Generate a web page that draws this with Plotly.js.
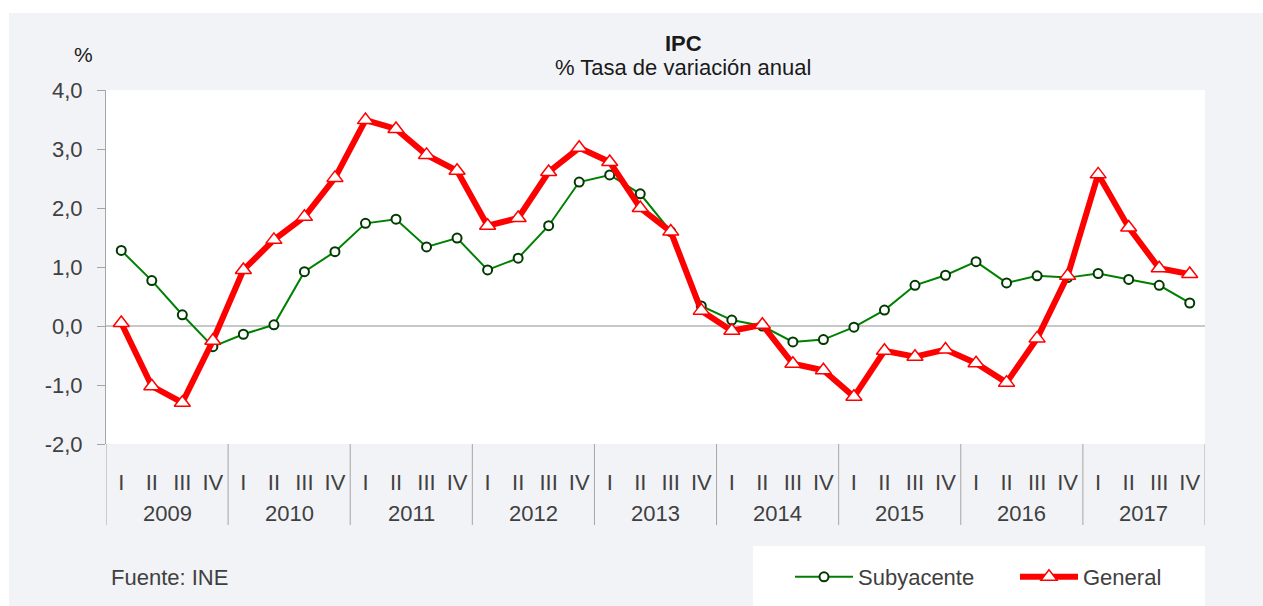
<!DOCTYPE html>
<html>
<head>
<meta charset="utf-8">
<script src="https://cdn.plot.ly/plotly-3.0.1.min.js"></script>
<style>
  html, body { margin: 0; padding: 0; background: #ffffff; width: 1263px; height: 606px; overflow: hidden; }
  #chart { position: absolute; left: 9px; top: 13px; width: 1254px; height: 593px; }
</style>
</head>
<body>
<div id="chart"></div>
<script>
// ---- Data ----
const years = ["2009", "2010", "2011", "2012", "2013", "2014", "2015", "2016", "2017"];
const quarters = ["I", "II", "III", "IV"];
const subyacente = [
  1.28, 0.77, 0.19, -0.35,
  -0.14, 0.02, 0.92, 1.26,
  1.74, 1.81, 1.34, 1.49,
  0.95, 1.15, 1.70, 2.44,
  2.56, 2.24, 1.60, 0.34,
  0.10, 0.00, -0.27, -0.23,
  -0.02, 0.27, 0.69, 0.86,
  1.09, 0.73, 0.85, 0.82,
  0.89, 0.79, 0.69, 0.39
];
const general = [
  0.05, -1.02, -1.30, -0.25,
  0.95, 1.46, 1.85, 2.51,
  3.49, 3.34, 2.90, 2.63,
  1.70, 1.83, 2.61, 3.02,
  2.78, 2.00, 1.60, 0.26,
  -0.08, 0.02, -0.64, -0.75,
  -1.20, -0.42, -0.52, -0.40,
  -0.63, -0.96, -0.21, 0.85,
  2.57, 1.67, 0.98, 0.88
];
const seriesNames = ["Subyacente", "General"];
const yTickVals = [-2, -1, 0, 1, 2, 3, 4];
const yTickText = ["-2,0", "-1,0", "0,0", "1,0", "2,0", "3,0", "4,0"];

// ---- Derived positions (category index) ----
const xIdx = general.map((_, i) => i);
const qLabels = xIdx.map(i => quarters[i % 4]);

const FONT = "Liberation Sans, Arial, sans-serif";
const TXT = "#404040";

const traces = [
  {
    x: xIdx, y: subyacente, name: seriesNames[0], type: "scatter", mode: "lines+markers",
    line: { color: "#008000", width: 2 },
    marker: { symbol: "circle", size: 9, color: "#ffffff", line: { color: "#003a00", width: 2 } }
  },
  {
    x: xIdx, y: general, name: seriesNames[1], type: "scatter", mode: "lines+markers",
    line: { color: "#ff0000", width: 6 },
    marker: { symbol: "triangle-up", size: 14, color: "#ffffff", line: { color: "#ff0000", width: 1.5 } }
  }
];

// page-pixel -> paper helpers (plot area: x 106..1205, y 90..444 on page)
const PX0 = 106, PW = 1099, PY1 = 444, PH = 354;
const px = v => (v - PX0) / PW;
const py = v => (PY1 - v) / PH;

const shapes = [];
// legend white box
shapes.push({ type: "rect", xref: "paper", yref: "paper", x0: px(753), x1: px(1205), y0: py(546), y1: py(640),
  fillcolor: "#ffffff", line: { width: 0 }, layer: "below" });
// year dividers
for (let k = 0; k <= years.length; k++) {
  shapes.push({ type: "line", xref: "x", yref: "paper", x0: k * 4 - 0.5, x1: k * 4 - 0.5, y0: 0, y1: py(525),
    line: { color: "#a6a6a6", width: 1 } });
}

const annotations = [
  { text: "<b>IPC</b>", xref: "paper", yref: "paper", x: px(683), y: py(43), showarrow: false,
    xanchor: "center", yanchor: "middle", font: { family: FONT, size: 22, color: "#1a1a1a" } },
  { text: "% Tasa de variación anual", xref: "paper", yref: "paper", x: px(683), y: py(67), showarrow: false,
    xanchor: "center", yanchor: "middle", font: { family: FONT, size: 22, color: "#1a1a1a" } },
  { text: "%", xref: "paper", yref: "paper", x: px(83), y: py(54), showarrow: false,
    xanchor: "center", yanchor: "middle", font: { family: FONT, size: 21, color: "#1a1a1a" } },
  { text: "Fuente: INE", xref: "paper", yref: "paper", x: px(109), y: py(577), showarrow: false,
    xanchor: "left", yanchor: "middle", font: { family: FONT, size: 22, color: TXT } }
];
years.forEach((yr, k) => {
  annotations.push({ text: yr, xref: "x", yref: "paper", x: k * 4 + 1.5, y: py(513), showarrow: false,
    xanchor: "center", yanchor: "middle", font: { family: FONT, size: 22, color: TXT } });
});

const layout = {
  width: 1254, height: 593,
  margin: { l: 97, r: 58, t: 77, b: 162, pad: 0, autoexpand: false },
  paper_bgcolor: "#f2f3f7",
  plot_bgcolor: "#ffffff",
  font: { family: FONT, size: 20, color: TXT },
  showlegend: true,
  legend: {
    orientation: "h", x: px(790), y: py(577), xanchor: "left", yanchor: "middle",
    bgcolor: "rgba(0,0,0,0)", font: { family: FONT, size: 22, color: TXT },
    itemwidth: 58, entrywidth: 152, entrywidthmode: "pixels", itemclick: false
  },
  xaxis: {
    range: [-0.5, 35.5], tickmode: "array", tickvals: xIdx, ticktext: qLabels,
    showgrid: false, zeroline: false, showline: false, ticks: "",
    tickfont: { family: FONT, size: 22, color: TXT }, ticklabelstandoff: 23, fixedrange: true
  },
  yaxis: {
    range: [-2, 4], tickmode: "array", tickvals: yTickVals, ticktext: yTickText,
    showgrid: false, zeroline: true, zerolinecolor: "#c8c8c8", zerolinewidth: 1.5,
    showline: true, linecolor: "#a6a6a6", linewidth: 1,
    ticks: "outside", ticklen: 8, tickcolor: "#a6a6a6", ticklabelstandoff: 10,
    tickfont: { family: FONT, size: 22, color: TXT }, fixedrange: true
  },
  shapes: shapes,
  annotations: annotations
};

Plotly.newPlot("chart", traces, layout, { displayModeBar: false, staticPlot: true });
</script>
</body>
</html>
